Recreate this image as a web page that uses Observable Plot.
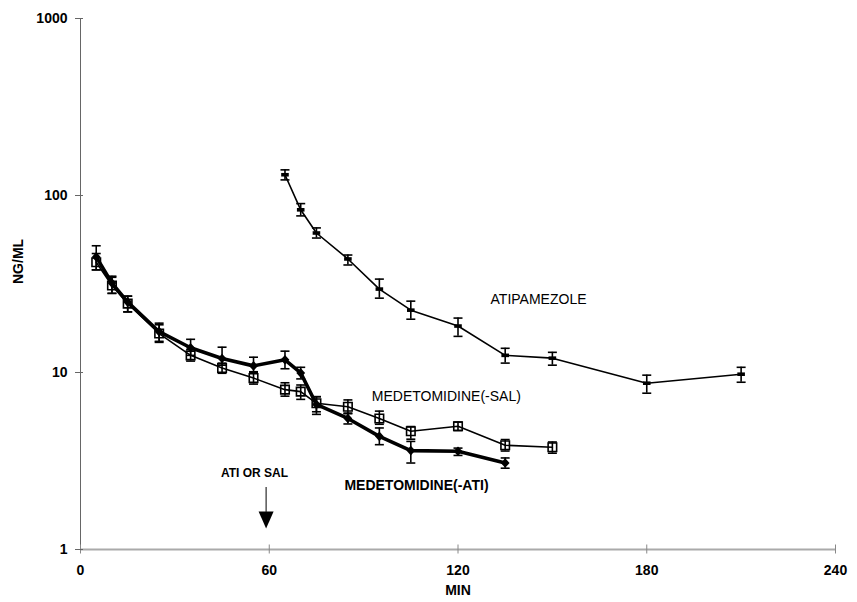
<!DOCTYPE html>
<html>
<head>
<meta charset="utf-8">
<script src="https://cdn.jsdelivr.net/npm/d3@7"></script>
<script src="https://cdn.jsdelivr.net/npm/@observablehq/plot@0.6"></script>
<style>
  html, body { margin: 0; padding: 0; background: #fff; }
  #chart { width: 857px; height: 602px; }
</style>
</head>
<body>
<div id="chart"></div>
<script>
// ---- data ----
const xTicks = [0, 60, 120, 180, 240];
const yTicks = [1, 10, 100, 1000];

const atiTimes = [65, 70, 75, 85, 95, 105, 120, 135, 150, 180, 210];
const atiMean  = [131, 83, 61.4, 43.8, 29.6, 22.5, 18.3, 12.5, 12.05, 8.7, 9.78];
const atiLo    = [122.5, 76.7, 57.5, 40.5, 26.3, 20.0, 16.0, 11.3, 11.0, 7.64, 8.81];
const atiHi    = [139.6, 90, 65.6, 46.1, 33.7, 25.3, 20.3, 13.7, 13.0, 9.66, 10.7];

const medSalTimes = [5, 10, 15, 25, 35, 45, 55, 65, 70, 75, 85, 95, 105, 120, 135, 150];
const medSalMean  = [42, 31, 24.5, 16.6, 12.5, 10.6, 9.3, 8.0, 7.8, 6.7, 6.4, 5.5, 4.66, 4.97, 3.88, 3.78];
const medSalLo    = [38, 28, 22, 14.8, 11.6, 9.9, 8.6, 7.35, 7.05, 6.0, 5.85, 5.1, 4.2, 4.7, 3.6, 3.5];
const medSalHi    = [47, 34.5, 27, 18.6, 13.5, 11.3, 10.1, 8.75, 8.5, 7.3, 7.0, 6.05, 4.95, 5.25, 4.18, 4.05];

const medAtiTimes = [5, 10, 15, 25, 35, 45, 55, 65, 70, 75, 85, 95, 105, 120, 135];
const medAtiMean  = [45, 32, 25, 17.0, 13.8, 12.0, 10.9, 11.8, 9.95, 6.6, 5.5, 4.36, 3.62, 3.59, 3.08];
const medAtiLo    = [38, 28, 22, 15, 12.5, 11.0, 10.0, 10.5, 9.2, 5.8, 5.12, 3.91, 3.08, 3.40, 2.88];
const medAtiHi    = [52, 35, 27, 19, 15.4, 13.9, 12.2, 13.2, 10.7, 7.3, 5.9, 4.86, 4.08, 3.74, 3.29];

const labelAti    = {text: "ATIPAMEZOLE", x: 145.6, y: 26.0};
const labelMedSal = {text: "MEDETOMIDINE(-SAL)", x: 116.3, y: 7.34};
const labelMedAti = {text: "MEDETOMIDINE(-ATI)", x: 106.8, y: 2.30};
const labelArrow  = {text: "ATI OR SAL", x: 55.3, y: 2.69};
const arrowX = 59;
const arrowShaft = [2.24, 1.62];
const arrowHeadY = 1.47;

// ---- build tables ----
const rows = (name, t, v, lo, hi) => t.map((d, i) => ({series: name, t: d, v: v[i], lo: lo[i], hi: hi[i]}));
const ati = rows("ATIPAMEZOLE", atiTimes, atiMean, atiLo, atiHi);
const medSal = rows("MEDETOMIDINE(-SAL)", medSalTimes, medSalMean, medSalLo, medSalHi);
const medAti = rows("MEDETOMIDINE(-ATI)", medAtiTimes, medAtiMean, medAtiLo, medAtiHi);
const all = [...medSal, ...ati, ...medAti];

// ---- custom symbols ----
const capSymbol = {draw(ctx, size) { const w = Math.sqrt(size / Math.PI); ctx.moveTo(-w, 0); ctx.lineTo(w, 0); }};
const dashSymbol = {draw(ctx, size) { const w = Math.sqrt(size / Math.PI); ctx.rect(-w, -1.8, 2 * w, 3.6); }};
const diamondSymbol = {draw(ctx, size) { const w = Math.sqrt(size / Math.PI); ctx.moveTo(0, -w * 1.1); ctx.lineTo(w, 0); ctx.lineTo(0, w * 1.1); ctx.lineTo(-w, 0); ctx.closePath(); }};
const headSymbol = {draw(ctx, size) { ctx.moveTo(-7.5, -8.5); ctx.lineTo(7.5, -8.5); ctx.lineTo(0, 8.5); ctx.closePath(); }};

const font = "'Liberation Sans', Arial, Helvetica, sans-serif";

const chart = Plot.plot({
  width: 857,
  height: 602,
  marginLeft: 80,
  marginRight: 22,
  marginTop: 18,
  marginBottom: 53,
  style: {fontFamily: font, fontSize: "14px", color: "black", background: "white"},
  x: {domain: [0, 240]},
  y: {type: "log", domain: [1, 1000]},
  marks: [
    // axis lines
    Plot.ruleX([0], {stroke: "#666", strokeWidth: 1}),
    Plot.ruleY([1], {stroke: "#aaa", strokeWidth: 2.2}),
    // tick marks
    Plot.axisX({ticks: xTicks, tickSize: 9, dy: -4.5, tickFormat: () => "", stroke: "#888", label: null}),
    Plot.axisY({ticks: yTicks, tickSize: 8, dx: 3, tickFormat: () => "", stroke: "#666", label: null}),
    // tick labels
    Plot.axisX({ticks: xTicks, tickSize: 0, tickPadding: 16, tickFormat: d => String(d), fontWeight: "bold", fontSize: 14, label: null}),
    Plot.axisY({ticks: yTicks, tickSize: 0, tickPadding: 13, tickFormat: d => String(d), fontWeight: "bold", fontSize: 14, label: null}),
    // axis titles
    Plot.text(["NG/ML"], {frameAnchor: "left", dx: -62, rotate: -90, fontWeight: "bold", fontSize: 14}),
    Plot.text(["MIN"], {frameAnchor: "bottom", dy: 45, fontWeight: "bold", fontSize: 14}),

    // error bars
    Plot.ruleX(all, {x: "t", y1: "lo", y2: "hi", stroke: "black", strokeWidth: 1.6}),
    Plot.dot(all, {x: "t", y: "lo", symbol: capSymbol, r: 4.5, fill: "none", stroke: "black", strokeWidth: 1.6}),
    Plot.dot(all, {x: "t", y: "hi", symbol: capSymbol, r: 4.5, fill: "none", stroke: "black", strokeWidth: 1.6}),

    // MEDETOMIDINE(-SAL): thin line, open squares
    Plot.line(medSal, {x: "t", y: "v", stroke: "black", strokeWidth: 1.6}),
    Plot.dot(medSal, {x: "t", y: "v", symbol: "square", r: 4.8, fill: "none", stroke: "black", strokeWidth: 1.6}),

    // ATIPAMEZOLE: thin line, dash markers
    Plot.line(ati, {x: "t", y: "v", stroke: "black", strokeWidth: 1.6}),
    Plot.dot(ati, {x: "t", y: "v", symbol: dashSymbol, r: 3.8, fill: "black", stroke: "none"}),

    // MEDETOMIDINE(-ATI): thick line, filled diamonds
    Plot.line(medAti, {x: "t", y: "v", stroke: "black", strokeWidth: 3.6}),
    Plot.dot(medAti, {x: "t", y: "v", symbol: diamondSymbol, r: 4.4, fill: "black", stroke: "none"}),

    // series labels
    Plot.text([labelAti], {x: "x", y: "y", text: "text", fontSize: 14}),
    Plot.text([labelMedSal], {x: "x", y: "y", text: "text", fontSize: 14}),
    Plot.text([labelMedAti], {x: "x", y: "y", text: "text", fontSize: 14, fontWeight: "bold"}),
    Plot.text([labelArrow], {x: "x", y: "y", text: "text", fontSize: 12, fontWeight: "bold"}),

    // arrow marking ATI or SAL injection
    Plot.ruleX([arrowX], {y1: arrowShaft[0], y2: arrowShaft[1], stroke: "black", strokeWidth: 1}),
    Plot.dot([arrowX], {x: d => d, y: () => arrowHeadY, symbol: headSymbol, r: 5, fill: "black", stroke: "none"})
  ]
});

document.getElementById("chart").appendChild(chart);
</script>
</body>
</html>
